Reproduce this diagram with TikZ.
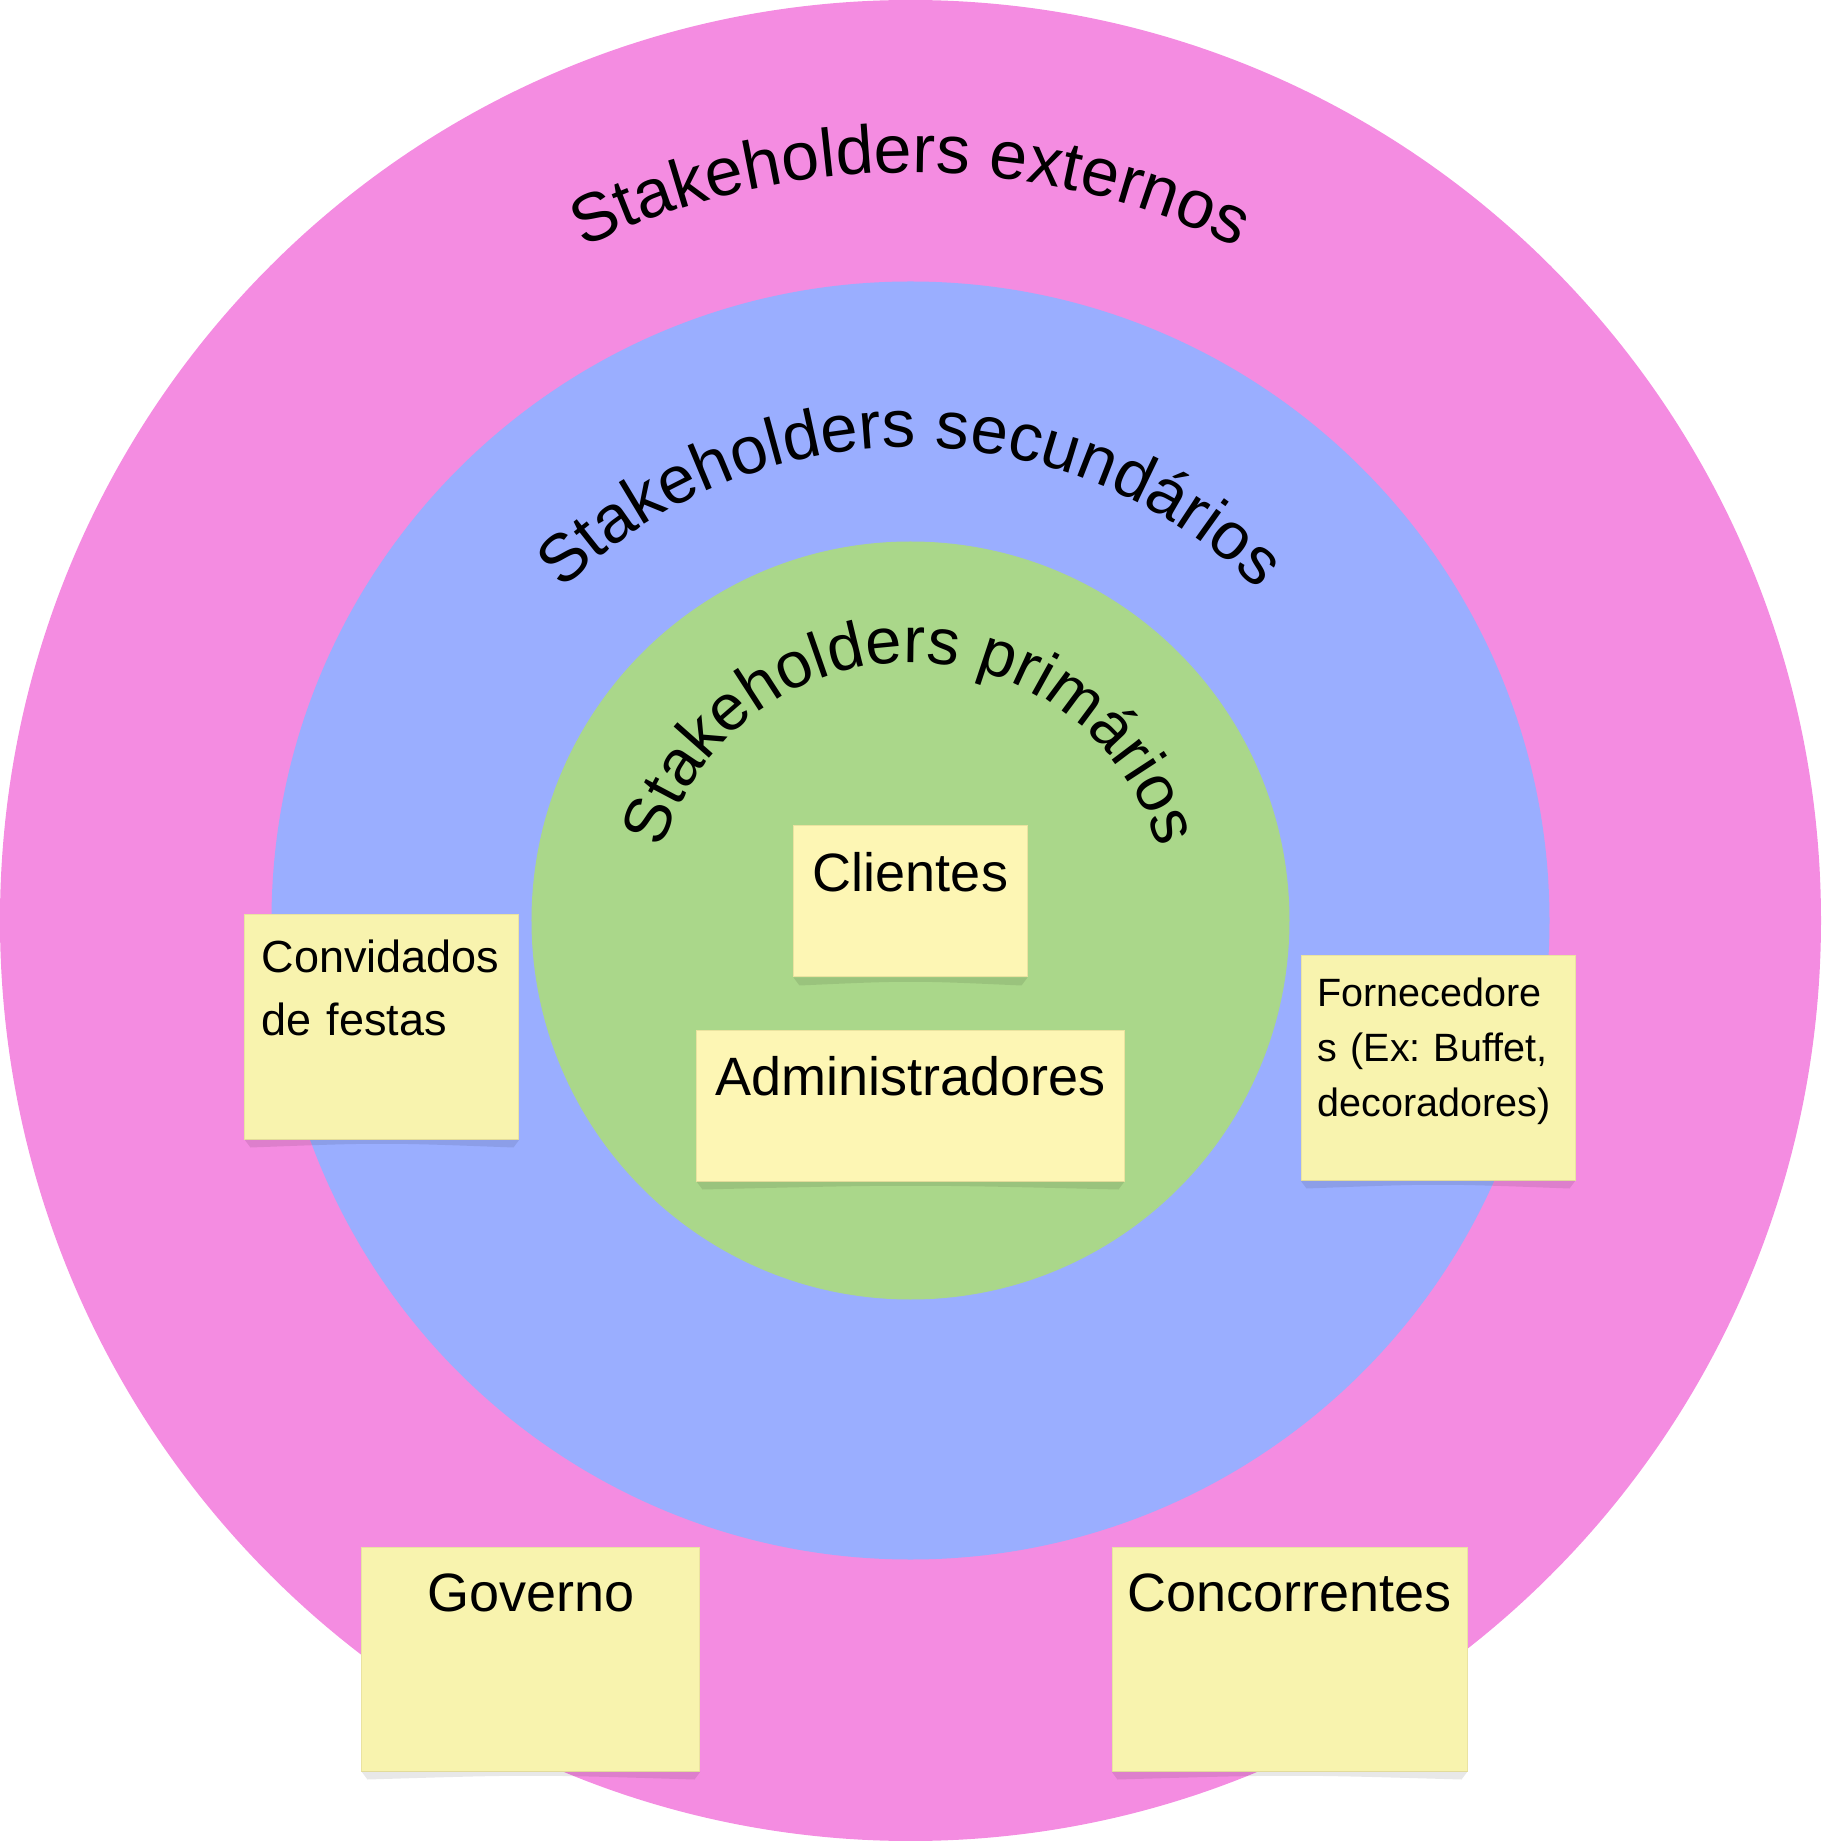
\documentclass[tikz,border=0pt]{standalone}
\usepackage{fontspec}
\setmainfont{Liberation Sans}
\usepackage{tikz}
\usetikzlibrary{positioning,decorations.text}
\frenchspacing
\definecolor{corExterno}{HTML}{F48CE1}
\definecolor{corSecundario}{HTML}{9AAEFF}
\definecolor{corPrimario}{HTML}{AAD78A}
\definecolor{corNota}{HTML}{F8F3AE}
\definecolor{corNotaClara}{HTML}{FDF6B4}
\definecolor{corBordaNota}{HTML}{EAE3A0}
\newcommand{\sombraNota}[1]{%
    \fill[black, opacity=0.09] (#1.south west) -- ([shift={(6pt,-8pt)}]#1.south west)
        .. controls ([yshift=-3pt]#1.south) .. ([shift={(-6pt,-8pt)}]#1.south east)
        -- (#1.south east) -- cycle;}

\begin{document}
\begin{tikzpicture}[x=1pt, y=1pt,
        nota/.style={rectangle, draw=corBordaNota, line width=1pt, fill=corNota, inner sep=0pt},
        notaClara/.style={nota, fill=corNotaClara},
        textoNota/.style={inner sep=0pt, text=black},
        titulo/.style={decorate, decoration={text along path, text align=center,
            text={|\fontsize{68}{80}\selectfont|#1}}},
        tituloMedio/.style={decorate, decoration={text along path, text align=center,
            text={|\fontsize{67}{80}\selectfont|#1}}},
        tituloMenor/.style={decorate, decoration={text along path, text align=center,
            text={|\fontsize{65}{78}\selectfont|#1}}}
    ]
        \useasboundingbox (-910.5,-920.5) rectangle (910.5,920.5);
        \fill[corExterno] (0,0) ellipse[x radius=910.5, y radius=920.5];
        \fill[corSecundario] (0,0) circle[radius=639];
        \fill[corPrimario] (0,0) circle[radius=379];

        \path[titulo={Stakeholders externos}] (180:748) arc[start angle=180, end angle=0, radius=748];
        \path[tituloMedio={Stakeholders secundários}] ([shift={(180:495)}]0,-22) arc[start angle=180, end angle=0, radius=495];
        \path[tituloMenor={Stakeholders primários}] (180:258) arc[start angle=180, end angle=0, radius=258];

        \node[notaClara, minimum width=233pt, minimum height=151pt] (clientes) at (0,19) {};
        \node[textoNota, anchor=base, font=\fontsize{54}{65}\selectfont] (clientesT)
            at ([yshift=-66pt]clientes.north) {Clientes};

        \node[notaClara, minimum width=427pt, minimum height=151pt, below=52pt of clientes] (admin) {};
        \node[textoNota, anchor=base, font=\fontsize{54}{65}\selectfont] (adminT)
            at ([yshift=-66pt]admin.north) {Administradores};

        \node[nota, minimum width=274pt, minimum height=224pt] (convidados) at (-528.5,-106.5) {};
        \node[textoNota, anchor=base west, text width=250pt, align=left, font=\fontsize{45}{63}\selectfont] (convidadosT)
            at ([shift={(17pt,-58pt)}]convidados.north west) {Convidados\\de festas};

        \node[nota, minimum width=274pt, minimum height=224pt] (fornecedores) at (527.5,-147.5) {};
        \node[textoNota, anchor=base west, text width=250pt, align=left, font=\fontsize{39.5}{55}\selectfont] (fornecedoresT)
            at ([shift={(17pt,-51pt)}]fornecedores.north west) {Fornecedore\\s (Ex: Buffet,\\decoradores)};

        \node[nota, minimum width=338pt, minimum height=224pt] (governo) at (-379.5,-738.5) {};
        \node[textoNota, anchor=base, font=\fontsize{54}{65}\selectfont] (governoT)
            at ([yshift=-65pt]governo.north) {Governo};

        \node[nota, minimum width=355pt, minimum height=224pt] (concorrentes) at (379,-738.5) {};
        \node[textoNota, anchor=base, font=\fontsize{54}{65}\selectfont] (concorrentesT)
            at ([yshift=-65pt]concorrentes.north) {Concorrentes};

        \sombraNota{clientes}
        \sombraNota{admin}
        \sombraNota{convidados}
        \sombraNota{fornecedores}
        \sombraNota{governo}
        \sombraNota{concorrentes}
    \end{tikzpicture}
\end{document}
